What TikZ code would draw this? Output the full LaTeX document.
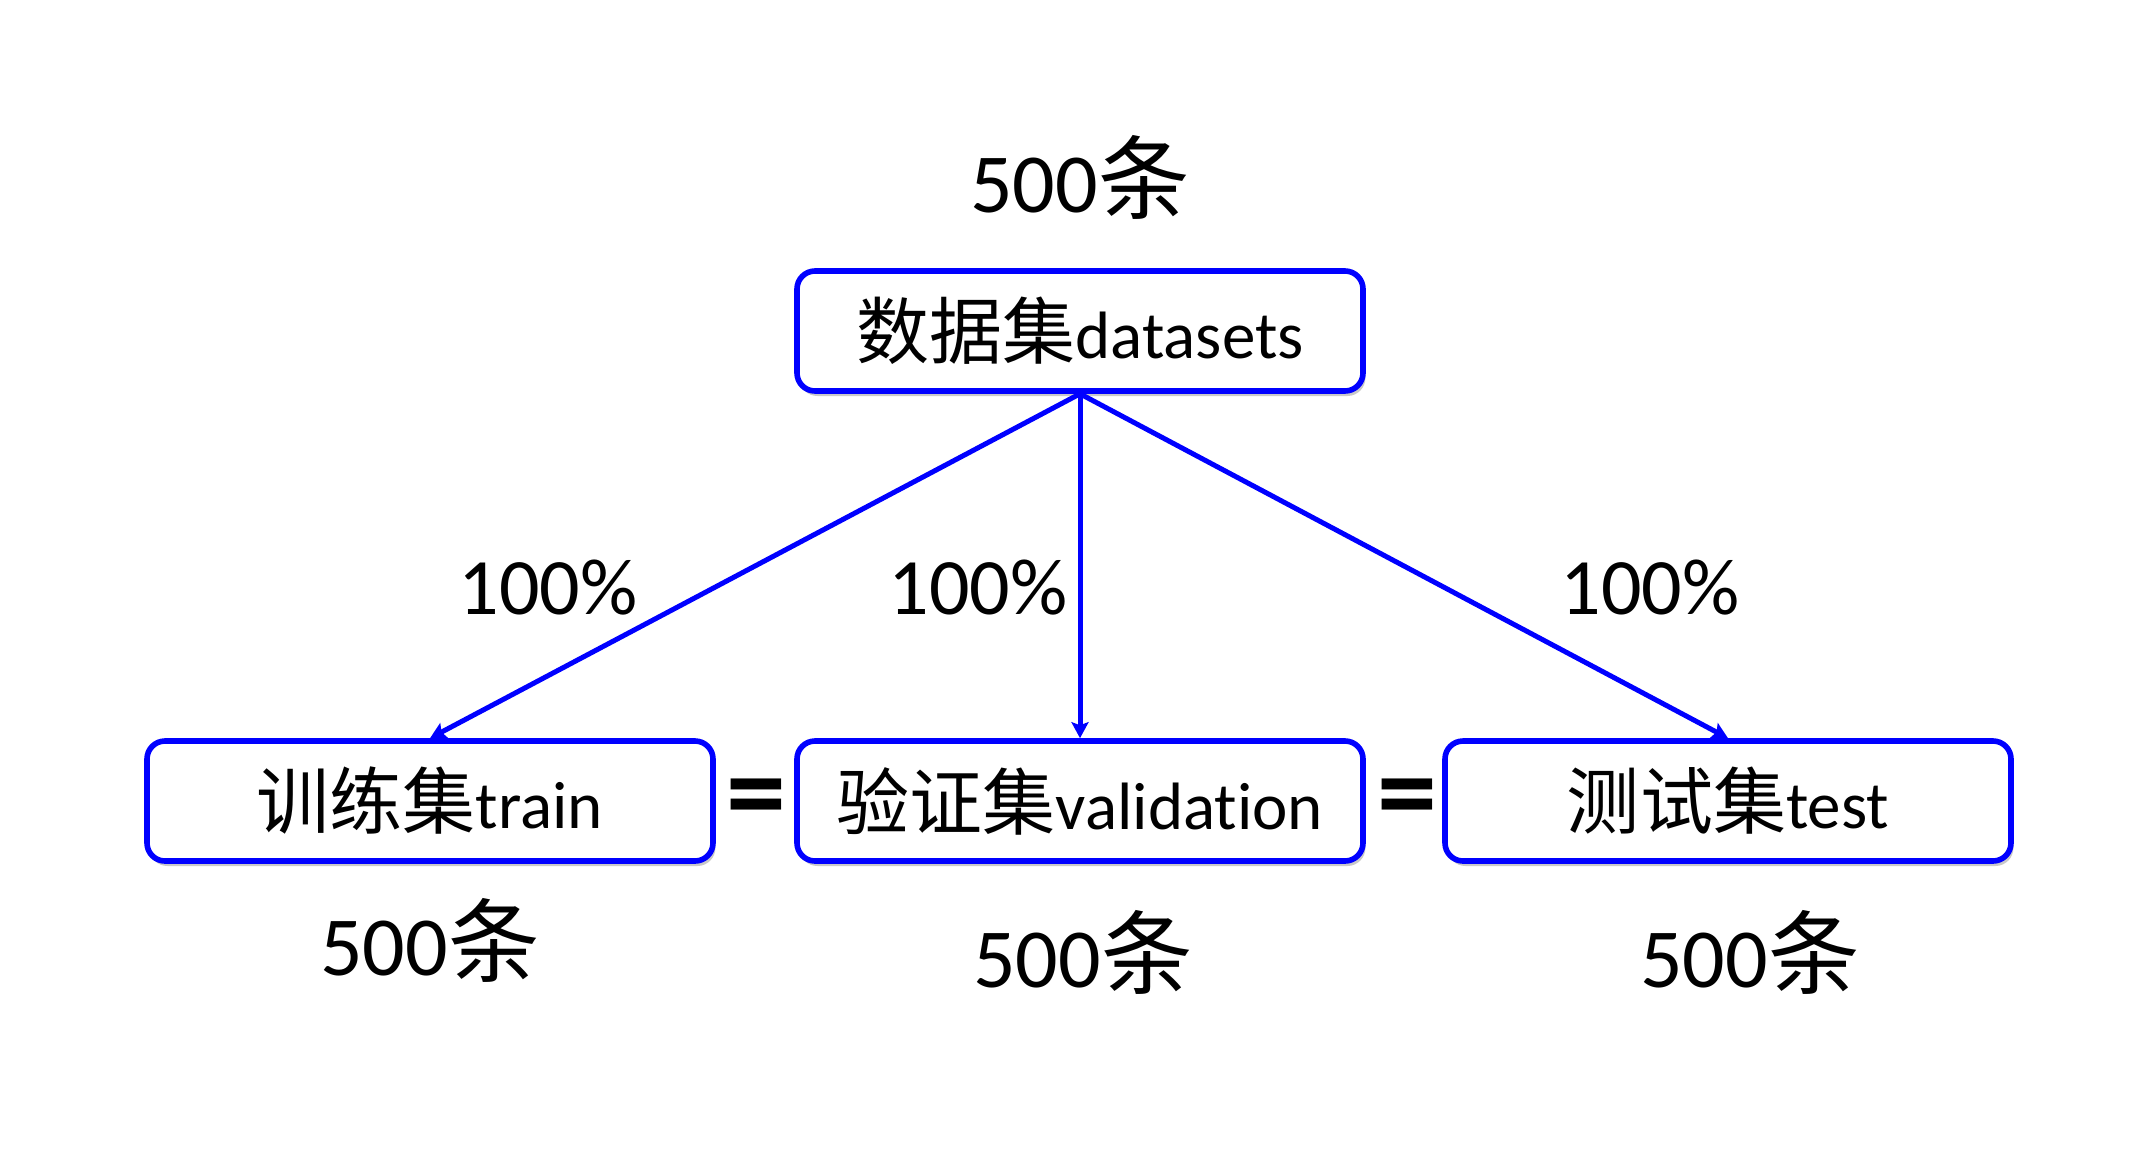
\documentclass[tikz,border=0pt]{standalone}
\usepackage{fontspec}
\setmainfont{Carlito}[Ligatures={NoCommon,NoContextual}]
\newfontfamily\cjk[Scale=1.09]{Noto Sans CJK SC}
\usetikzlibrary{arrows.meta,shadows}
\begin{document}
\begin{tikzpicture}[x=0.5pt,y=-0.5pt,
  box/.style={draw=blue, line width=2.8pt, rounded corners=9pt, fill=white,
    minimum width=283pt, minimum height=60pt, inner sep=0pt,
    font=\fontsize{33.5}{40}\selectfont,
    drop shadow={shadow xshift=1.2pt, shadow yshift=-2.5pt, opacity=0.3, fill=black!70}},
  big/.style={font=\fontsize{40}{48}\selectfont, inner sep=0pt},
  count/.style={font=\fontsize{42}{50}\selectfont, inner sep=0pt},
  eq/.style={font=\bfseries\fontsize{60}{66}\selectfont, inner sep=0pt},
  link/.style={draw=blue, line width=2.5pt, -{Stealth[length=8pt,width=8.5pt,inset=1.5pt]}}]
\useasboundingbox (0,0) rectangle (2142,1152);

\node[count] (t500) at (1080,177) {500{\cjk 条}};

\node[box] (ds) at (1080,331) {{\cjk 数据集}datasets};
\node[box] (train) at (430,801) {{\cjk 训练集}train};
\node[box] (val) at (1080,801) {{\cjk 验证集}validation};
\node[box] (test) at (1728,801) {{\cjk 测试集}test};

\node[eq] (eq1) at (756,806) {=};
\node[eq] (eq2) at (1407,806) {=};

\node[big] (p1) at (548,588) {100\%};
\node[big] (p2) at (978,588) {100\%};
\node[big] (p3) at (1650,588) {100\%};

\node[count] (b1) at (430,940) {500{\cjk 条}};
\node[count] (b2) at (1083,952) {500{\cjk 条}};
\node[count] (b3) at (1750,952) {500{\cjk 条}};

\draw[link] (ds.south) -- (train.north);
\draw[link] (ds.south) -- (val.north);
\draw[link] (ds.south) -- (test.north);
\end{tikzpicture}
\end{document}
